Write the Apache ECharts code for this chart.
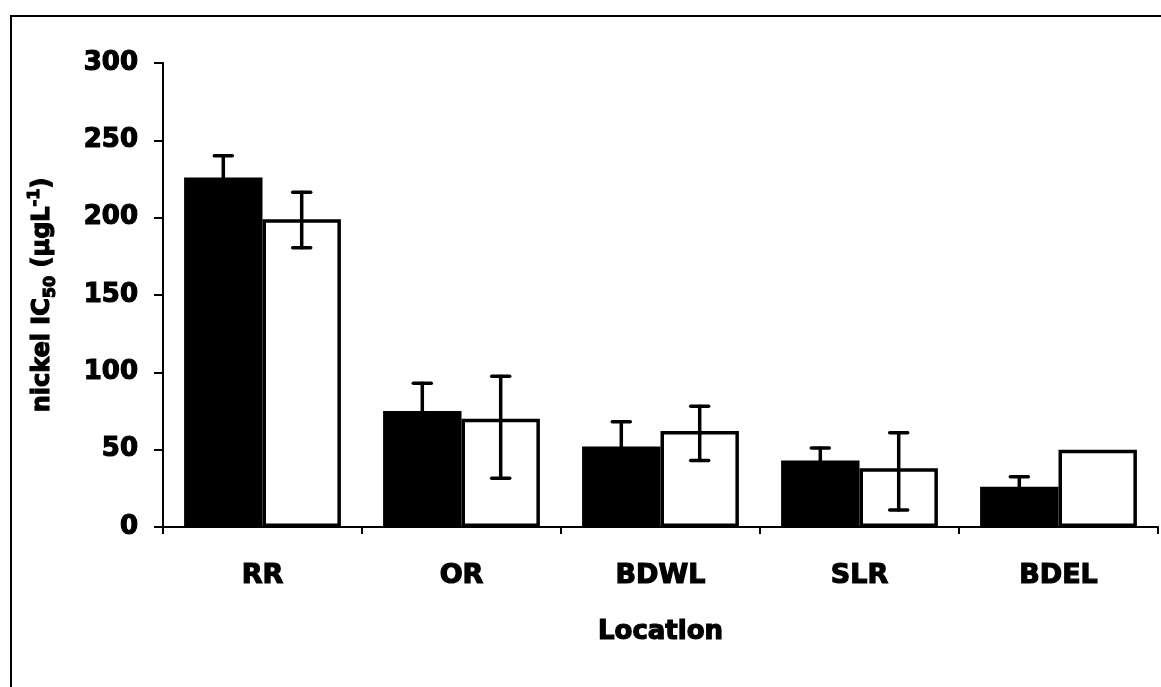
<!DOCTYPE html>
<html>
<head>
<meta charset="utf-8">
<script src="https://cdn.jsdelivr.net/npm/echarts@6/dist/echarts.min.js"></script>
<style>
html,body{margin:0;padding:0;background:#fff;}
#chart{width:1161px;height:687px;}
</style>
</head>
<body>
<div id="chart"></div>
<script>
var categories = ['RR', 'OR', 'BDWL', 'SLR', 'BDEL'];
var filledValues = [226, 75, 52, 43, 26];
var filledErrHigh = [240, 93, 68, 51, 32.5];
var filledErrLow = [212, 57, 36, 35, 19.5];
var openValues = [199, 70, 62, 38, 50];
var openErrHigh = [216.5, 97.5, 78, 61, null];
var openErrLow = [180.5, 31.5, 43, 11, null];
var yTicks = [0, 50, 100, 150, 200, 250, 300];

var FONT = 'DejaVu Sans';
var BAR_FRAC = 0.394;
var HEAVY = { textBorderColor: '#000', textBorderWidth: 1.2 };

function heavy(o) {
  for (var k in HEAVY) o[k] = HEAVY[k];
  return o;
}

function errData(lo, hi) {
  var out = [];
  for (var i = 0; i < categories.length; i++) {
    if (hi[i] != null) out.push([i, lo[i], hi[i]]);
  }
  return out;
}

function errRender(sign) {
  return function (params, api) {
    var idx = api.value(0);
    var band = api.size([1, 0])[0];
    var off = sign * band * BAR_FRAC / 2;
    var top = api.coord([idx, api.value(2)]);
    var bot = api.coord([idx, api.value(1)]);
    var x = top[0] + off;
    var cap = 9;
    var st = { stroke: '#000', lineWidth: 3.5, lineCap: 'round' };
    return {
      type: 'group',
      children: [
        { type: 'line', shape: { x1: x, y1: top[1], x2: x, y2: bot[1] }, style: st },
        { type: 'line', shape: { x1: x - cap, y1: top[1], x2: x + cap, y2: top[1] }, style: st },
        { type: 'line', shape: { x1: x - cap, y1: bot[1], x2: x + cap, y2: bot[1] }, style: st }
      ]
    };
  };
}

var chart = echarts.init(document.getElementById('chart'));
chart.setOption({
  animation: false,
  backgroundColor: '#fff',
  graphic: [{
    type: 'rect',
    shape: { x: 11, y: 16, width: 1170, height: 690 },
    style: { fill: 'none', stroke: '#000', lineWidth: 2 },
    silent: true
  }],
  grid: { left: 163, right: 3, top: 63, bottom: 160, containLabel: false },
  xAxis: {
    type: 'category',
    data: categories,
    boundaryGap: true,
    name: 'Location',
    nameLocation: 'middle',
    nameGap: 92,
    nameTextStyle: heavy({ fontFamily: FONT, fontWeight: 'bold', fontSize: 26, color: '#000' }),
    axisLine: { show: true, lineStyle: { color: '#000', width: 2 } },
    axisTick: { show: true, alignWithLabel: false, length: 7, lineStyle: { color: '#000', width: 2 } },
    axisLabel: heavy({ fontFamily: FONT, fontWeight: 'bold', fontSize: 27, color: '#000', margin: 35 }),
    splitLine: { show: false }
  },
  yAxis: {
    type: 'value',
    min: 0,
    max: 300,
    interval: 50,
    name: '{a|nickel IC}{sub|50}{a| (μgL}{sup|-1}{a|)}',
    nameLocation: 'middle',
    nameGap: 102,
    nameRotate: 90,
    nameTextStyle: {
      color: '#000',
      rich: {
        a: heavy({ fontFamily: FONT, fontWeight: 'bold', fontSize: 24, color: '#000', lineHeight: 36, verticalAlign: 'middle' }),
        sub: heavy({ fontFamily: FONT, fontWeight: 'bold', fontSize: 16, color: '#000', lineHeight: 36, verticalAlign: 'bottom', padding: [0, 0, 2, 0] }),
        sup: heavy({ fontFamily: FONT, fontWeight: 'bold', fontSize: 16, color: '#000', lineHeight: 36, verticalAlign: 'top', padding: [2, 0, 0, 0] })
      }
    },
    axisLine: { show: true, lineStyle: { color: '#000', width: 2 } },
    axisTick: { show: true, inside: false, length: 9, lineStyle: { color: '#000', width: 2 } },
    axisLabel: heavy({
      fontFamily: FONT, fontWeight: 'bold', fontSize: 26, color: '#000', margin: 25,
      formatter: function (v) { return yTicks.indexOf(v) >= 0 ? String(v) : ''; }
    }),
    splitLine: { show: false }
  },
  series: [
    {
      type: 'bar',
      data: filledValues,
      barWidth: (BAR_FRAC * 100) + '%',
      barGap: '0%',
      itemStyle: { color: '#000', borderColor: '#000', borderWidth: 2 },
      z: 2
    },
    {
      type: 'bar',
      data: openValues,
      barWidth: (BAR_FRAC * 100) + '%',
      barGap: '0%',
      itemStyle: { color: '#fff', borderColor: '#000', borderWidth: 3.5 },
      z: 2
    },
    {
      type: 'custom',
      renderItem: errRender(-1),
      data: errData(filledErrLow, filledErrHigh),
      encode: { x: 0, y: [1, 2] },
      z: 3
    },
    {
      type: 'custom',
      renderItem: errRender(1),
      data: errData(openErrLow, openErrHigh),
      encode: { x: 0, y: [1, 2] },
      z: 3
    }
  ]
});
</script>
</body>
</html>
